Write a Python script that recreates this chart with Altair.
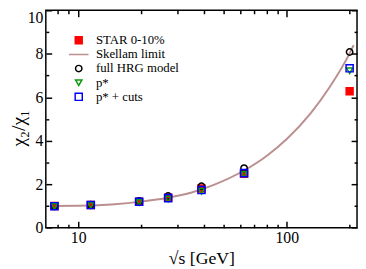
import altair as alt
import pandas as pd

# ---- data ----
energies = [7.7, 11.5, 19.6, 27, 39, 62.4, 200]
star = [1.0, 1.04, 1.2, 1.38, 1.8, 2.48, 6.28]
hrg = [1.0, 1.06, 1.23, 1.46, 1.91, 2.74, 8.08]
pstar = [0.97, 1.02, 1.16, 1.32, 1.68, 2.45, 7.22]
pcuts = [0.99, 1.04, 1.19, 1.36, 1.73, 2.51, 7.33]

skellam_x = [7.3, 10, 15, 20, 27, 35, 45, 62.4, 80, 100, 130, 160, 200, 209]
skellam_y = [1.0, 1.01, 1.08, 1.2, 1.38, 1.62, 1.98, 2.63, 3.3, 4.08, 5.26, 6.45, 8.02, 8.4]

names = ["STAR 0-10%", "Skellam limit", "full HRG model", "p*", "p* + cuts"]
strokes = ["#ff0000", "#bc8f8f", "#000000", "#0a9a0a", "#0000ff"]
fills = ["#ff0000", "transparent", "transparent", "transparent", "transparent"]
shapes = ["square", "stroke", "circle", "triangle-down", "square"]
sizes = [50, 400, 42, 42, 52]

x_major = [10, 100]
x_minor = [8, 9, 20, 30, 40, 50, 60, 70, 80, 90, 200]
y_major = [0, 2, 4, 6, 8, 10]
y_labels_low = [0, 2, 4, 6, 8]
y_labels_top = [10]
y_minor = [1, 3, 5, 7, 9]

W = 316.8
H = 221.3
FONT = "Liberation Serif"

rows = []
for name, vals in [(names[0], star), (names[2], hrg), (names[3], pstar), (names[4], pcuts)]:
    for e, v in zip(energies, vals):
        rows.append({"s": e, "v": v, "series": name})
pts = pd.DataFrame(rows)
line_df = pd.DataFrame({"s": skellam_x, "v": skellam_y, "series": names[1]})

xscale = alt.Scale(type="log", domain=[7, 217], nice=False)
yscale = alt.Scale(domain=[0, 10], nice=False, zero=False)

stroke_enc = alt.Stroke("series:N", scale=alt.Scale(domain=names, range=strokes), legend=alt.Legend(title=None))
fill_enc = alt.Fill("series:N", scale=alt.Scale(domain=names, range=fills), legend=alt.Legend(title=None))
shape_enc = alt.Shape("series:N", scale=alt.Scale(domain=names, range=shapes), legend=alt.Legend(title=None))
size_enc = alt.Size("series:N", scale=alt.Scale(type="ordinal", domain=names, range=sizes),
                    legend=alt.Legend(title=None))


def tick_axis(orient, values, size, offset):
    return alt.Axis(orient=orient, values=values, tickSize=size, offset=offset, labels=False,
                    domain=False, grid=False, title=None, tickColor="black", tickWidth=1.5)


# main labelled axes
x_lab = alt.Axis(orient="bottom", values=x_major, ticks=False, tickSize=0, labelPadding=2, domain=False,
                 grid=False, title="√s [GeV]", labelFontSize=16, labelFont=FONT, titleFont=FONT,
                 titleFontSize=18, titleFontWeight="normal", titlePadding=4, labelColor="black",
                 titleColor="black", format="d")
y_lab = alt.Axis(orient="left", values=y_labels_low, ticks=False, tickSize=0, labelPadding=3, domain=False,
                 grid=False, title="χ₂/χ₁", labelFontSize=16, labelFont=FONT, titleFont=FONT,
                 titleFontSize=20, titleFontWeight="normal", labelColor="black",
                 titleColor="black", titleX=-28, titleY=H / 2 + 9, titleAngle=270,
                 titleAlign="center", titleBaseline="middle")
y_lab_top = alt.Axis(orient="left", values=y_labels_top, ticks=False, tickSize=0, labelPadding=3,
                     domain=False, grid=False, title=None, labelFontSize=16, labelFont=FONT,
                     labelColor="black", labelBaseline="top", labelOffset=-1)

line = alt.Chart(line_df).mark_line(strokeWidth=2, interpolate="monotone").encode(
    x=alt.X("s:Q", scale=xscale, axis=x_lab),
    y=alt.Y("v:Q", scale=yscale, axis=y_lab),
    stroke=stroke_enc,
)


def point_layer(name, xaxis, yaxis):
    return alt.Chart(pts).transform_filter(alt.datum.series == name).mark_point(
        strokeWidth=1.5, opacity=1
    ).encode(
        x=alt.X("s:Q", scale=xscale, axis=xaxis),
        y=alt.Y("v:Q", scale=yscale, axis=yaxis),
        stroke=stroke_enc, fill=fill_enc, shape=shape_enc, size=size_enc,
    )


l_star = point_layer(names[0], tick_axis("top", x_major, 6.5, -H), tick_axis("right", y_major, 6, -W))
l_hrg = point_layer(names[2], tick_axis("top", x_minor, 3.5, -H), tick_axis("right", y_minor, 3, -W))
l_pstar = point_layer(names[3], tick_axis("bottom", x_major, 6.5, -H), tick_axis("left", y_major, 6, -W))
l_cuts = point_layer(names[4], tick_axis("bottom", x_minor, 3.5, -H), tick_axis("left", y_minor, 3, -W))
l_top = alt.Chart(pts).transform_filter(alt.datum.series == names[4]).mark_point(opacity=0).encode(
    x=alt.X("s:Q", scale=xscale, axis=None),
    y=alt.Y("v:Q", scale=yscale, axis=y_lab_top),
)

chart = alt.layer(line, l_star, l_hrg, l_pstar, l_cuts, l_top).resolve_axis(
    x="independent", y="independent"
).properties(
    width=W, height=H,
    autosize=alt.AutoSizeParams(type="none"),
    padding={"left": 38.5, "top": 0, "right": 1, "bottom": 39},
).configure(
    font=FONT
).configure_view(
    stroke="black", strokeWidth=1.5
).configure_legend(
    orient="none", legendX=22.5, legendY=24, labelFont=FONT, labelFontSize=13, labelColor="black",
    symbolStrokeWidth=1.5, labelOffset=6.5, rowPadding=0.4, clipHeight=13, padding=0
)

chart.save("out.html", embed_options={"renderer": "svg", "actions": False})
